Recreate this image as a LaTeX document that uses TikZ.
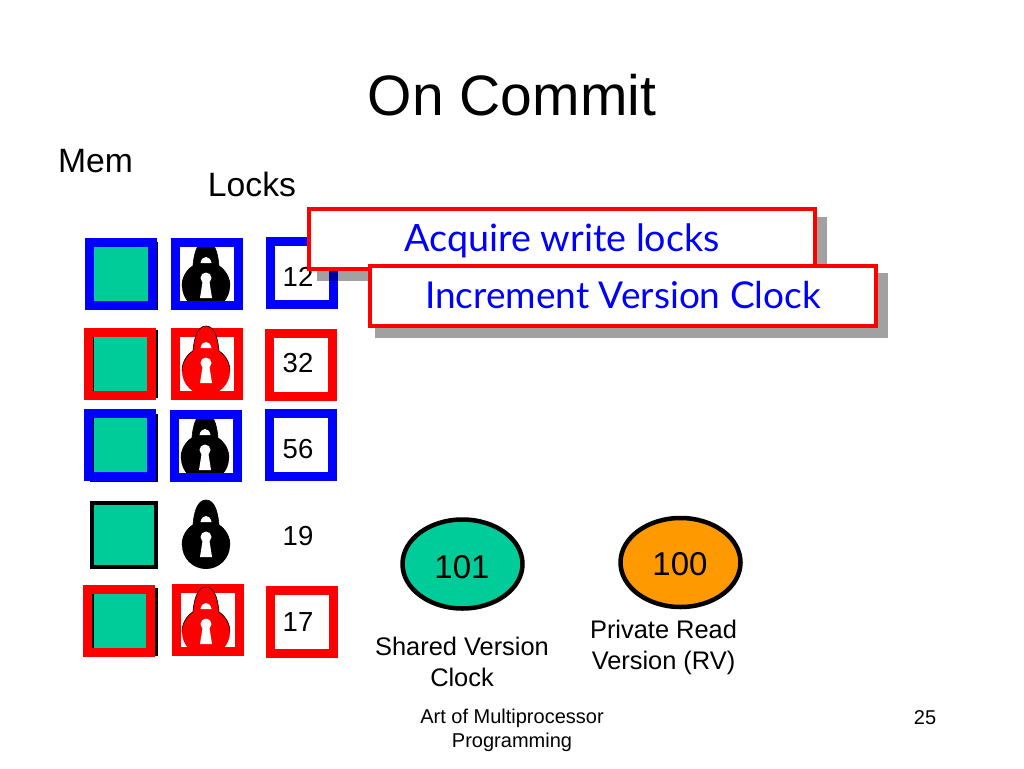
\documentclass[tikz,border=0pt]{standalone}
\usepackage{fontspec}
\usepackage{tikz}
\usetikzlibrary{shapes.geometric}
\setmainfont{Liberation Sans}
\newfontfamily\callfont{Lato}
\definecolor{memgreen}{HTML}{00CC99}
\definecolor{rvorange}{HTML}{FF9900}
\newcommand{\fsize}[1]{\fontsize{#1}{#1}\selectfont}
\tikzset{
  padlock/.pic = {
    \fill[#1] (0,0) circle [radius=24];
    \path[fill=#1, draw=black, line width=0.6] (-24,0) arc [start angle=180, end angle=237, radius=24] .. controls (-12,-32) and (-9,-45) .. (0,-45) .. controls (9,-45) and (12,-32) .. (13,-20) arc [start angle=303, end angle=360, radius=24];
    \fill[white] (-5.5,-23) .. controls (-4,-31) and (4,-31) .. (5.5,-23) -- cycle;
    \fill[white] (0,-8) circle [radius=5.5];
    \fill[white] (-3,-7) -- (-6,12) -- (6,12) -- (3,-7) -- cycle;
  }
}
\begin{document}
\begin{tikzpicture}[x=1pt, y=-1pt,
  mem/.style = {draw=black, fill=memgreen, line width=4, minimum width=64, minimum height=64, inner sep=0},
  hold/.style = {draw, line width=9, minimum width=63, minimum height=63, inner sep=0},
  num/.style = {font=\fsize{27.5}},
  clock/.style = {draw=black, ellipse, line width=4.5, minimum width=120, minimum height=89, inner sep=0},
  note/.style = {align=center, font=\fsize{25.4}},
  foot/.style = {align=center, font=\fsize{20}},
  shade/.style = {fill=black, opacity=0.37},
  call/.style = {draw=red, fill=white, line width=4, minimum width=506, minimum height=60, inner sep=0},
  calltxt/.style = {text=blue, font=\callfont\fsize{37.7}}]
\useasboundingbox (0,0) rectangle (1024,768);
\node[font=\fsize{57}] (title) at (512,95.5) {On Commit};
\node[font=\fsize{33.7}] (memhead) at (95.5,161.5) {Mem};
\node[font=\fsize{33.7}] (lockhead) at (252,184.5) {Locks};
% memory cells
\node[mem] (m1) at (124,276) {};
\node[mem] (m2) at (124,364) {};
\node[mem] (m3) at (124,448) {};
\node[mem] (m4) at (124,534.5) {};
\node[mem] (m5) at (124,622) {};
\node[hold, blue] (hm1) at (121,273.5) {};
\node[hold, red] (hm2) at (119.5,364) {};
\node[hold, blue] (hm3) at (120,445) {};
\node[hold, red] (hm5) at (119,621) {};
% locks
\pic (k1) at (206,286) {padlock=black};
\pic (k3) at (205,458) {padlock=black};
\pic (k4) at (206,545) {padlock=black};
\node[hold, blue] (hk1) at (206.5,274) {};
\node[hold, red] (hk2) at (206.5,363.5) {};
\node[hold, blue] (hk3) at (205.5,446) {};
\node[hold, red] (hk5) at (207.5,620) {};
\pic (k2) at (206,371) {padlock=red};
\pic (k5) at (206,632) {padlock=red};
% version numbers
\node[hold, blue] (hv1) at (301.5,273) {};
\node[hold, red] (hv2) at (301,365) {};
\node[hold, blue] (hv3) at (301,445) {};
\node[hold, red] (hv5) at (301.5,621.5) {};
\node[num] (v1) at (298,277) {12};
\node[num] (v2) at (298,363) {32};
\node[num] (v3) at (298,449.5) {56};
\node[num] (v4) at (298,536) {19};
\node[num] (v5) at (298,622) {17};
% callouts
\fill[shade] (317,217) rectangle (827,281);
\node[call] (acquire) at (562,239) {};
\node[calltxt] (acquiretxt) at (562,241) {Acquire write locks};
\fill[shade] (375,273) rectangle (888,338);
\node[call] (increment) at (623,295.5) {};
\node[calltxt, font=\callfont\fsize{37}] (incrementtxt) at (623,295.5) {Increment Version Clock};
% clocks
\node[clock, fill=memgreen] (shared) at (462.5,564) {};
\node[font=\fsize{33}] (sharedtxt) at (462,567) {101};
\node[clock, fill=rvorange] (private) at (680.5,562.5) {};
\node[font=\fsize{33}] (privatetxt) at (680,564) {100};
\node[note] (sharedlbl) at (462,662) {Shared Version\\[5pt]Clock};
\node[note] (privatelbl) at (663.5,647.5) {Private Read\\[5pt]Version (RV)};
\node[foot] (course) at (512,730.5) {Art of Multiprocessor\\[4pt]Programming};
\node[foot] (page) at (925,718) {25};
\end{tikzpicture}
\end{document}
